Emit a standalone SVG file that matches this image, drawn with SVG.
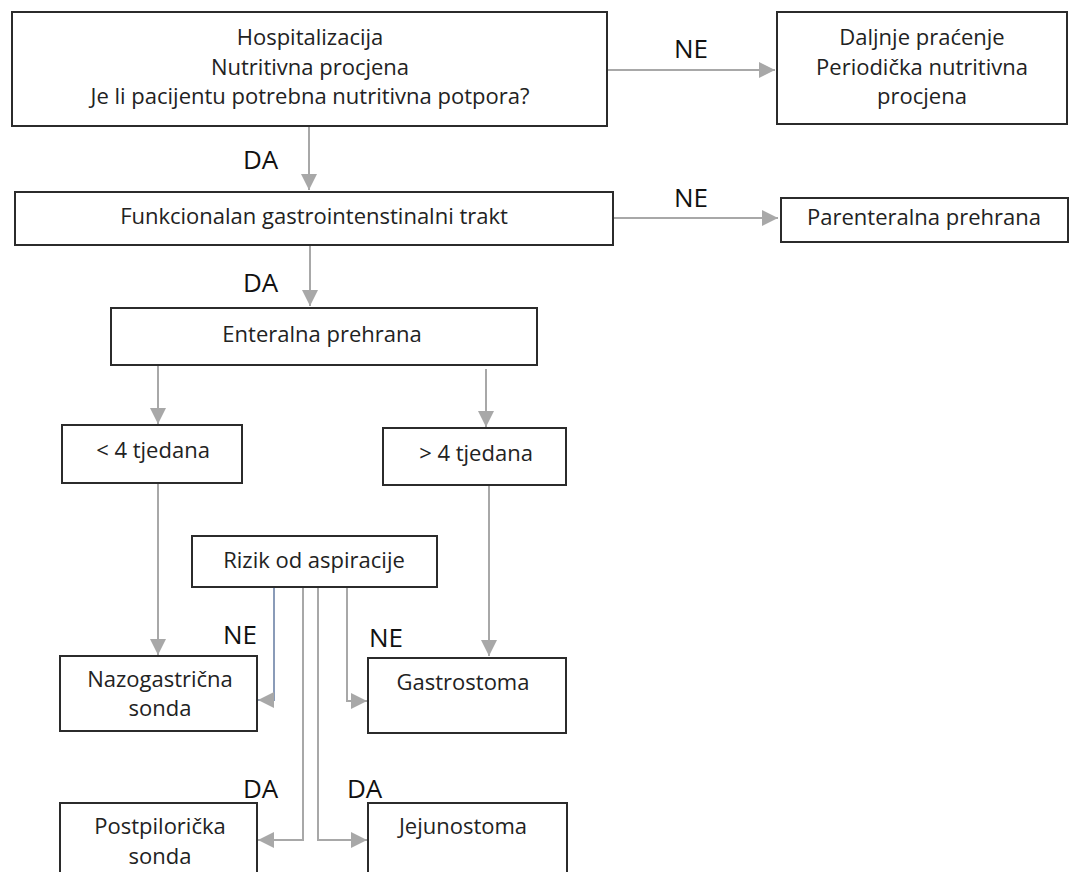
<svg xmlns="http://www.w3.org/2000/svg" width="1071" height="872" viewBox="0 0 1071 872">
<style>
.box{fill:#fff;stroke:#2b2b2b;stroke-width:2}
.t{font-family:"Open Sans","Liberation Sans",sans-serif;font-size:22px;fill:#222;text-anchor:middle}
.lbl{font-family:"Open Sans","Liberation Sans",sans-serif;font-size:26px;fill:#111}
.c{fill:none;stroke:#a8a8a8;stroke-width:2}
.cb{fill:none;stroke:#8a9bb8;stroke-width:2}
</style>
<defs>
<marker id="ah" viewBox="0 0 10 10" refX="10" refY="5" markerWidth="16" markerHeight="16" markerUnits="userSpaceOnUse" orient="auto">
<path d="M0,0 L10,5 L0,10 z" fill="#a8a8a8"/>
</marker>
</defs>
<rect width="1071" height="872" fill="#fff"/>
<g id="connectors">
<line class="c" x1="607" y1="70" x2="775" y2="70" marker-end="url(#ah)"/>
<line class="c" x1="309" y1="126" x2="309" y2="190" marker-end="url(#ah)"/>
<line class="c" x1="613" y1="218" x2="778" y2="218" marker-end="url(#ah)"/>
<line class="c" x1="310" y1="245" x2="310" y2="306" marker-end="url(#ah)"/>
<line class="c" x1="158" y1="366" x2="158" y2="424" marker-end="url(#ah)"/>
<line class="c" x1="486" y1="369" x2="486" y2="427" marker-end="url(#ah)"/>
<line class="c" x1="158" y1="483" x2="158" y2="655" marker-end="url(#ah)"/>
<line class="c" x1="489" y1="485" x2="489" y2="656" marker-end="url(#ah)"/>
<path class="cb" d="M274,588 V700 H258" marker-end="url(#ah)"/>
<path class="c" d="M303,588 V840 H258" marker-end="url(#ah)"/>
<path class="c" d="M318,588 V840 H367" marker-end="url(#ah)"/>
<path class="c" d="M347,588 V701 H367" marker-end="url(#ah)"/>
<text class="lbl" x="674" y="58">NE</text>
<text class="lbl" x="674" y="207">NE</text>
<text class="lbl" x="243" y="169">DA</text>
<text class="lbl" x="243" y="292">DA</text>
<text class="lbl" x="223" y="644">NE</text>
<text class="lbl" x="369" y="647">NE</text>
<text class="lbl" x="243" y="798">DA</text>
<text class="lbl" x="347" y="798">DA</text>
</g>
<g id="n-hosp">
<rect class="box" x="12" y="12" width="595" height="114"/>
<text class="t" x="310" y="45">Hospitalizacija</text>
<text class="t" x="310" y="75">Nutritivna procjena</text>
<text class="t" x="310" y="104">Je li pacijentu potrebna nutritivna potpora?</text>
</g>
<g id="n-daljnje">
<rect class="box" x="777" y="12" width="290" height="112"/>
<text class="t" x="922" y="45">Daljnje praćenje</text>
<text class="t" x="922" y="75">Periodička nutritivna</text>
<text class="t" x="922" y="104">procjena</text>
</g>
<g id="n-funk">
<rect class="box" x="15" y="192" width="598" height="53"/>
<text class="t" x="314" y="224">Funkcionalan gastrointenstinalni trakt</text>
</g>
<g id="n-parent">
<rect class="box" x="781" y="198" width="287" height="44"/>
<text class="t" x="924" y="225">Parenteralna prehrana</text>
</g>
<g id="n-enteral">
<rect class="box" x="111" y="308" width="426" height="57"/>
<text class="t" x="322" y="342">Enteralna prehrana</text>
</g>
<g id="n-lt4">
<rect class="box" x="62" y="425" width="180" height="58"/>
<text class="t" x="153" y="458">&lt; 4 tjedana</text>
</g>
<g id="n-gt4">
<rect class="box" x="383" y="428" width="183" height="57"/>
<text class="t" x="476" y="461">&gt; 4 tjedana</text>
</g>
<g id="n-rizik">
<rect class="box" x="192" y="536" width="245" height="51"/>
<text class="t" x="314" y="568">Rizik od aspiracije</text>
</g>
<g id="n-nazo">
<rect class="box" x="60" y="656" width="197" height="75"/>
<text class="t" x="160" y="687">Nazogastrična</text>
<text class="t" x="160" y="716">sonda</text>
</g>
<g id="n-gastro">
<rect class="box" x="368" y="658" width="198" height="75"/>
<text class="t" x="463" y="690">Gastrostoma</text>
</g>
<g id="n-postp">
<rect class="box" x="60" y="803" width="197" height="80"/>
<text class="t" x="160" y="834">Postpilorička</text>
<text class="t" x="160" y="864">sonda</text>
</g>
<g id="n-jejuno">
<rect class="box" x="368" y="803" width="199" height="80"/>
<text class="t" x="463" y="834">Jejunostoma</text>
</g>
</svg>
